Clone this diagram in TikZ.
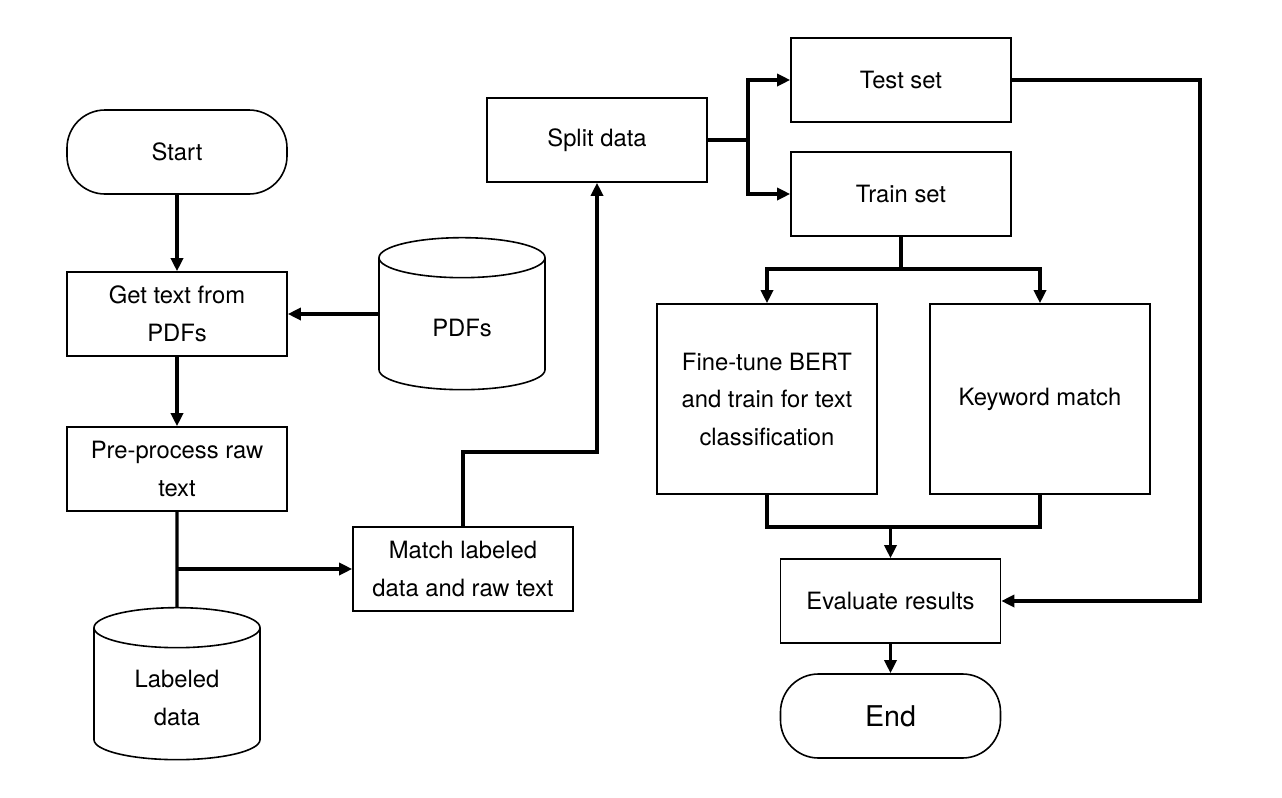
\documentclass[tikz,border=0pt]{standalone}
\usepackage{fontspec}
\setmainfont{TeX Gyre Heros}
\usetikzlibrary{arrows.meta,shapes.geometric}
\tikzset{
	box/.style={draw,line width=0.8pt,minimum width=110pt,minimum height=42pt,align=center,inner sep=2pt},
	term/.style={box,rounded corners=19pt},
	store/.style={draw,line width=0.8pt,cylinder,shape border rotate=90,aspect=3,minimum width=83pt,minimum height=76pt},
	conn/.style={line width=1.7pt,-{Triangle[length=6.5pt,width=6pt]}},
	link/.style={line width=1.7pt},
}
\begin{document}
\begin{tikzpicture}[x=0.5pt,y=-0.5pt,font=\fontsize{11.9}{18.75}\selectfont]
	\useasboundingbox (0,0) rectangle (1282,798);
	% left column
	\node[term] (start) at (177,152) {Start};
	\node[box] (gettext) at (177,314) {Get text from\\PDFs};
	\node[store,label={center:PDFs}] (pdfs) at (462,328) {};
	\node[box] (preproc) at (177,469) {Pre-process raw\\text};
	\node[store,label={[align=center]center:{Labeled\\data}}] (labeled) at (177,698) {};
	\node[box] (match) at (463,569) {Match labeled\\data and raw text};
	% right part
	\node[box] (split) at (597,140) {Split data};
	\node[box] (test) at (901,80) {Test set};
	\node[box] (train) at (901,194) {Train set};
	\node[box,minimum height=95pt] (finetune) at (767,399) {Fine-tune BERT\\and train for text\\classification};
	\node[box,minimum height=95pt] (keyword) at (1040,399) {Keyword match};
	\node[box] (eval) at (890.5,601) {Evaluate results};
	\node[term,font=\fontsize{14.3}{17}\selectfont] (end) at (890.5,716) {End};
	% branch points
	\coordinate (lb) at (177,569);
	\coordinate (mu) at (463,452);
	\coordinate (sb) at (748,140);
	\coordinate (tb) at (901,269);
	\coordinate (jn) at (890.5,527);
	\coordinate (rl) at (1200,601);
	% connectors
	\draw[conn] (start) -- (gettext);
	\draw[conn] (pdfs.west |- gettext.east) -- (gettext.east);
	\draw[conn] (gettext) -- (preproc);
	\draw[link] (preproc) -- (labeled);
	\draw[conn] (lb) -- (match);
	\draw[conn] (match.north) -- (mu) -| (split.south);
	\draw[link] (split.east) -- (sb);
	\draw[conn] (sb) |- (test.west);
	\draw[conn] (sb) |- (train.west);
	\draw[link] (train.south) -- (tb);
	\draw[conn] (tb) -| (finetune.north);
	\draw[conn] (tb) -| (keyword.north);
	\draw[link] (finetune.south) |- (jn);
	\draw[link] (keyword.south) |- (jn);
	\draw[conn] (jn) -- (eval);
	\draw[conn] (test.east) -| (rl) -- (eval.east);
	\draw[conn] (eval) -- (end);
\end{tikzpicture}
\end{document}
